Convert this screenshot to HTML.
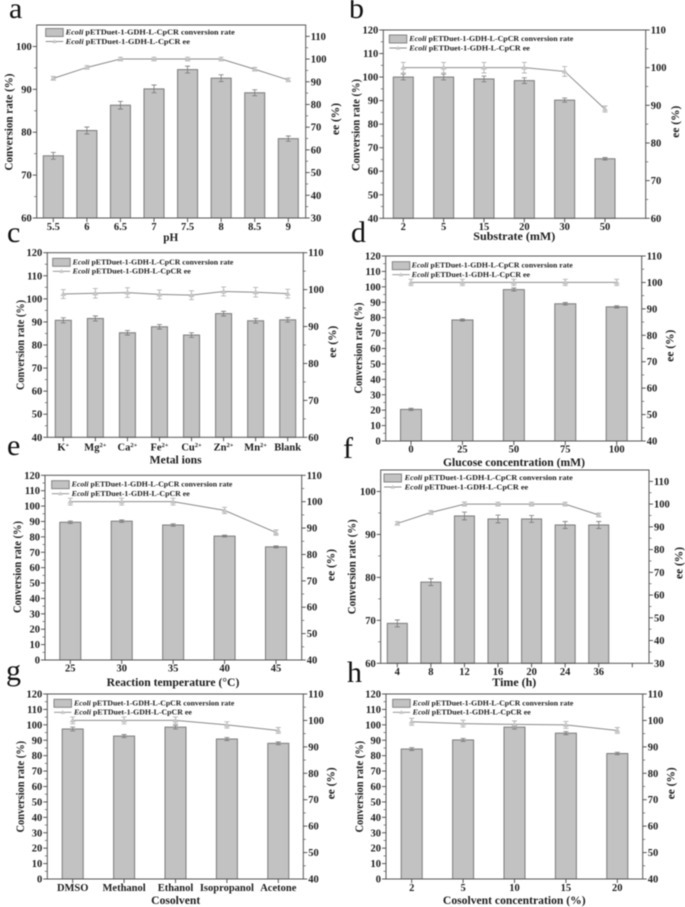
<!DOCTYPE html>
<html lang="en">
<head>
<meta charset="utf-8">
<title>Ecoli pETDuet-1-GDH-L-CpCR conversion rate and ee panels</title>
<style>
html,body{margin:0;padding:0;background:#fff;}
#figure{display:block;width:685px;height:907px;filter:blur(0.55px);font-family:"Liberation Serif",serif;}
text{font-family:"Liberation Serif",serif;fill:#1c1c1c;}
.tick{font-size:10.5px;font-weight:bold;}
.title{font-size:11.5px;font-weight:bold;}
.legend{font-size:7.5px;font-weight:bold;}
.letter{font-size:30px;fill:#111;}
</style>
</head>
<body>
<svg id="figure" xmlns="http://www.w3.org/2000/svg" width="685" height="907" viewBox="0 0 685 907"></svg>
<script>
const panelACategories = ["5.5","6","6.5","7","7.5","8","8.5","9"];
const panelAConversion = [74.5,80.4,86.3,90.1,94.6,92.6,89.2,78.5];
const panelAConversionError = [0.8,0.8,0.9,0.9,0.8,0.8,0.7,0.6];
const panelAEe = [91.5,96.3,100,100,100,100,95.5,90.8];
const panelAEeError = [0.8,0.8,0.8,0.8,0.8,0.8,0.8,0.8];
const panelALeftTicks = [60,70,80,90,100];
const panelARightTicks = [30,40,50,60,70,80,90,100,110];

const panelBCategories = ["2","5","15","20","30","50"];
const panelBConversion = [100,100,99.2,98.5,90.2,65.3];
const panelBConversionError = [1.2,1.2,1.2,1.2,0.9,0.5];
const panelBEe = [100,100,100,100,99,89];
const panelBEeError = [1.4,1.4,1.4,1.4,1.3,0.8];
const panelBLeftTicks = [40,50,60,70,80,90,100,110,120];
const panelBRightTicks = [60,70,80,90,100,110];

const panelCCategories = ["K","Mg","Ca","Fe","Cu","Zn","Mn","Blank"];
const panelCSuperscripts = ["+","2+","2+","2+","2+","2+","2+",""];
const panelCConversion = [90.7,91.5,85.3,87.9,84.3,93.6,90.5,90.9];
const panelCConversionError = [1.1,1.1,1,1,1,1,1,1];
const panelCEe = [98.8,99,99.2,98.7,98.5,99.5,99.3,98.9];
const panelCEeError = [1.2,1.3,1.3,1.2,1.2,1.2,1.3,1.2];
const panelCLeftTicks = [40,50,60,70,80,90,100,110,120];
const panelCRightTicks = [60,70,80,90,100,110];

const panelDCategories = ["0","25","50","75","100"];
const panelDConversion = [20.5,78.5,98.2,89,87];
const panelDConversionError = [0.7,0.7,1,0.8,0.7];
const panelDEe = [100,100,100,100,100];
const panelDEeError = [1.2,1.2,1.2,1.2,1.2];
const panelDLeftTicks = [0,10,20,30,40,50,60,70,80,90,100,110,120];
const panelDRightTicks = [40,50,60,70,80,90,100,110];

const panelECategories = ["25","30","35","40","45"];
const panelEConversion = [89.5,90.2,87.7,80.5,73.5];
const panelEConversionError = [0.8,0.8,0.8,0.6,0.6];
const panelEEe = [100,100,100,96.7,88.3];
const panelEEeError = [1.3,1.3,1.3,1.2,1];
const panelELeftTicks = [0,10,20,30,40,50,60,70,80,90,100,110,120];
const panelERightTicks = [40,50,60,70,80,90,100,110];

const panelFCategories = ["4","8","12","16","20","24","36",""];
const panelFConversion = [69.3,78.9,94.3,93.6,93.6,92.2,92.2];
const panelFConversionError = [0.8,0.8,0.9,0.9,0.8,0.8,0.8];
const panelFEe = [91.5,96.3,100,100,100,100,95.2];
const panelFEeError = [0.8,0.8,0.9,0.8,0.8,0.8,0.8];
const panelFLeftTicks = [60,70,80,90,100];
const panelFRightTicks = [30,40,50,60,70,80,90,100,110];

const panelGCategories = ["DMSO","Methanol","Ethanol","Isopropanol","Acetone"];
const panelGConversion = [97.3,92.7,98.5,90.8,88];
const panelGConversionError = [1.2,1,1.2,1,0.9];
const panelGEe = [100,100,100,98.3,96.2];
const panelGEeError = [1.3,1.3,1.3,1.2,1.1];
const panelGLeftTicks = [0,10,20,30,40,50,60,70,80,90,100,110,120];
const panelGRightTicks = [40,50,60,70,80,90,100,110];

const panelHCategories = ["2","5","10","15","20"];
const panelHConversion = [84.3,90.2,98.5,94.6,81.4];
const panelHConversionError = [0.9,1,1.3,1,0.8];
const panelHEe = [99.5,98.8,98.5,98.3,96.2];
const panelHEeError = [1.3,1.3,1.3,1.3,1.1];
const panelHLeftTicks = [0,10,20,30,40,50,60,70,80,90,100,110,120];
const panelHRightTicks = [40,50,60,70,80,90,100,110];

const SVG_NS = "http://www.w3.org/2000/svg";
const figure = document.getElementById("figure");

function make(tag, attrs, parent, content) {
  const el = document.createElementNS(SVG_NS, tag);
  for (const key in attrs) el.setAttribute(key, attrs[key]);
  if (content !== undefined) el.textContent = content;
  parent.appendChild(el);
  return el;
}

function drawPanel(p) {
  const group = make("g", {}, figure);
  
  

  const yLeft = v => p.bottom - (v - p.leftMin) / (p.leftMax - p.leftMin) * (p.bottom - p.top);
  const yRight = v => p.bottom - (v - p.rightMin) / (p.rightMax - p.rightMin) * (p.bottom - p.top);
  const step = (p.lastCenter - p.firstCenter) / (p.lastIndex);
  const xCat = i => p.firstCenter + i * step;

  const letter = make("text", {x: p.letterX, y: p.letterY, class: "letter"}, group, p.id);
  
  

  p.conversion.forEach((v, i) => {
    const bar = make("rect", {x: xCat(i) - p.barWidth / 2, y: yLeft(v), width: p.barWidth, height: p.bottom - yLeft(v), fill: "#c2c2c2", stroke: "#7a7a7a", "stroke-width": 1}, group);
    
    
    const hi = yLeft(v + p.conversionError[i]);
    const lo = yLeft(v - p.conversionError[i]);
    const cx = xCat(i);
    const err = make("path", {d: `M${cx} ${hi}V${lo}M${cx - 2.5} ${hi}H${cx + 2.5}M${cx - 2.5} ${lo}H${cx + 2.5}`, stroke: "#777", "stroke-width": 0.8, fill: "none"}, group);
    
    
  });

  const linePoints = p.ee.map((v, i) => xCat(i) + "," + yRight(v)).join(" ");
  const line = make("polyline", {points: linePoints, fill: "none", stroke: "#8a8a8a", "stroke-width": 1}, group);
  
  

  p.ee.forEach((v, i) => {
    const cx = xCat(i);
    const cy = yRight(v);
    const hi = yRight(v + p.eeError[i]);
    const lo = yRight(v - p.eeError[i]);
    const err = make("path", {d: `M${cx} ${hi}V${lo}M${cx - 2.5} ${hi}H${cx + 2.5}M${cx - 2.5} ${lo}H${cx + 2.5}`, stroke: "#aaa", "stroke-width": 0.8, fill: "none"}, group);
    
    
    const marker = make("path", {d: `M${cx} ${cy - 2.6}L${cx + 2.6} ${cy + 1.8}H${cx - 2.6}Z`, fill: "#c6c6c6", stroke: "#bbb", "stroke-width": 0.4}, group);
    
    
  });

  const frame = make("rect", {x: p.left, y: p.top, width: p.right - p.left, height: p.bottom - p.top, fill: "none", stroke: "#555", "stroke-width": 1}, group);
  
  

  p.leftTicks.forEach((v, i) => {
    const y = yLeft(v);
    const tick = make("line", {x1: p.left - 4, x2: p.left, y1: y, y2: y, stroke: "#444", "stroke-width": 0.9}, group);
    
    
    const label = make("text", {x: p.left - 5, y: y + 3.5, "text-anchor": "end", class: "tick"}, group, v);
    
    
    const mv = v + (p.leftTicks[1] - p.leftTicks[0]) / 2;
    if (mv < p.leftMax) {
      const minor = make("line", {x1: p.left - 2.5, x2: p.left, y1: yLeft(mv), y2: yLeft(mv), stroke: "#555", "stroke-width": 0.7}, group);
      
      
    }
  });

  p.rightTicks.forEach((v, i) => {
    const y = yRight(v);
    const tick = make("line", {x1: p.right, x2: p.right + 4, y1: y, y2: y, stroke: "#444", "stroke-width": 0.9}, group);
    
    
    const label = make("text", {x: p.right + 5, y: y + 3.5, class: "tick"}, group, v);
    
    
    const mv = v + (p.rightTicks[1] - p.rightTicks[0]) / 2;
    if (mv < p.rightMax) {
      const minor = make("line", {x1: p.right, x2: p.right + 2.5, y1: yRight(mv), y2: yRight(mv), stroke: "#555", "stroke-width": 0.7}, group);
      
      
    }
  });

  p.categories.forEach((c, i) => {
    const cx = xCat(i);
    const tick = make("line", {x1: cx, x2: cx, y1: p.bottom, y2: p.bottom + 4, stroke: "#444", "stroke-width": 0.9}, group);
    
    
    const label = make("text", {x: cx, y: p.tickBaseline, "text-anchor": "middle", class: "tick"}, group, c);
    
    
    if (p.superscripts && p.superscripts[i]) {
      make("tspan", {dy: -3.5, "font-size": "6.5px"}, label, p.superscripts[i]);
    }
  });

  const xTitle = make("text", {x: p.xTitleX, y: p.xTitleY, "text-anchor": "middle", class: "title", textLength: p.xTitleW, lengthAdjust: "spacingAndGlyphs"}, group, p.xTitle);
  
  

  const yTitle = make("text", {transform: `translate(${p.yTitleX} ${p.yTitleY}) rotate(-90)`, "text-anchor": "middle", class: "title", textLength: p.yTitleW, lengthAdjust: "spacingAndGlyphs"}, group, "Conversion rate (%)");
  
  

  const rTitle = make("text", {transform: `translate(${p.rTitleX} ${p.rTitleY}) rotate(-90)`, "text-anchor": "middle", class: "title", textLength: 32, lengthAdjust: "spacingAndGlyphs"}, group, "ee (%)");
  
  

  const swatch = make("rect", {x: p.legX, y: p.legY, width: 17.5, height: 8, fill: "#c2c2c2", stroke: "#7a7a7a", "stroke-width": 0.9}, group);
  
  
  const text1 = make("text", {x: p.legTextX, y: p.legY + 6, class: "legend", textLength: p.legW, lengthAdjust: "spacingAndGlyphs"}, group);
  
  
  make("tspan", {"font-style": "italic"}, text1, "Ecoli");
  make("tspan", {}, text1, " pETDuet-1-GDH-L-CpCR conversion rate");

  const rowY = p.legY + 13;
  const swatchLine = make("line", {x1: p.legX, x2: p.legX + 17.5, y1: rowY, y2: rowY, stroke: "#8a8a8a", "stroke-width": 0.9}, group);
  
  
  const mx = p.legX + 8.75;
  const swatchMark = make("path", {d: `M${mx} ${rowY - 2.3}L${mx + 2.3} ${rowY + 1.6}H${mx - 2.3}Z`, fill: "#c6c6c6"}, group);
  
  
  const text2 = make("text", {x: p.legTextX, y: rowY + 2.4, class: "legend", textLength: p.legW * 0.735, lengthAdjust: "spacingAndGlyphs"}, group);
  
  
  make("tspan", {"font-style": "italic"}, text2, "Ecoli");
  make("tspan", {}, text2, " pETDuet-1-GDH-L-CpCR ee");
}

drawPanel({id:"a",categories:panelACategories,conversion:panelAConversion,conversionError:panelAConversionError,ee:panelAEe,eeError:panelAEeError,leftTicks:panelALeftTicks,rightTicks:panelARightTicks,
  left:36.7,right:305.7,top:25,bottom:218,leftMin:60,leftMax:105,rightMin:30,rightMax:115,firstCenter:53.3,lastCenter:288.3,lastIndex:7,barWidth:20,tickBaseline:230,
  xTitle:"pH",xTitleX:170.7,xTitleY:241,xTitleW:15,yTitleX:12.5,yTitleY:122,yTitleW:97,rTitleX:339,rTitleY:119,letterX:9,letterY:18,legX:45.7,legY:28.5,legTextX:65.7,legW:169});
drawPanel({id:"b",categories:panelBCategories,conversion:panelBConversion,conversionError:panelBConversionError,ee:panelBEe,eeError:panelBEeError,leftTicks:panelBLeftTicks,rightTicks:panelBRightTicks,
  left:383.3,right:645.7,top:30,bottom:218.3,leftMin:40,leftMax:120,rightMin:60,rightMax:110,firstCenter:403.3,lastCenter:605,lastIndex:5,barWidth:20,tickBaseline:230,
  xTitle:"Substrate (mM)",xTitleX:514.3,xTitleY:240,xTitleW:82,yTitleX:359.5,yTitleY:125,yTitleW:92,rTitleX:679,rTitleY:121.7,letterX:349,letterY:18,legX:389.3,legY:35,legTextX:409.3,legW:164});
drawPanel({id:"c",categories:panelCCategories,superscripts:panelCSuperscripts,conversion:panelCConversion,conversionError:panelCConversionError,ee:panelCEe,eeError:panelCEeError,leftTicks:panelCLeftTicks,rightTicks:panelCRightTicks,
  left:47.3,right:303.3,top:252.7,bottom:437.3,leftMin:40,leftMax:120,rightMin:60,rightMax:110,firstCenter:63.3,lastCenter:287.7,lastIndex:7,barWidth:16,tickBaseline:450.5,
  xTitle:"Metal ions",xTitleX:175.7,xTitleY:463.5,xTitleW:52,yTitleX:24,yTitleY:345,yTitleW:90,rTitleX:336,rTitleY:341.7,letterX:7,letterY:242,legX:52.7,legY:258.3,legTextX:72.7,legW:160.7});
drawPanel({id:"d",categories:panelDCategories,conversion:panelDConversion,conversionError:panelDConversionError,ee:panelDEe,eeError:panelDEeError,leftTicks:panelDLeftTicks,rightTicks:panelDRightTicks,
  left:385.7,right:641.7,top:256,bottom:441,leftMin:0,leftMax:120,rightMin:40,rightMax:110,firstCenter:411,lastCenter:616.7,lastIndex:4,barWidth:21,tickBaseline:452.5,
  xTitle:"Glucose concentration (mM)",xTitleX:514,xTitleY:466,xTitleW:142,yTitleX:362,yTitleY:348,yTitleW:91,rTitleX:673.5,rTitleY:345.7,letterX:351,letterY:242,legX:392.3,legY:261.7,legTextX:411.7,legW:161});
drawPanel({id:"e",categories:panelECategories,conversion:panelEConversion,conversionError:panelEConversionError,ee:panelEEe,eeError:panelEEeError,leftTicks:panelELeftTicks,rightTicks:panelERightTicks,
  left:45,right:301.7,top:475.3,bottom:660,leftMin:0,leftMax:120,rightMin:40,rightMax:110,firstCenter:70.3,lastCenter:276,lastIndex:4,barWidth:21,tickBaseline:671.5,
  xTitle:"Reaction temperature (\u00B0C)",xTitleX:173,xTitleY:686,xTitleW:132.7,yTitleX:21,yTitleY:567,yTitleW:92,rTitleX:334.5,rTitleY:565,letterX:7,letterY:455,legX:51.7,legY:480.7,legTextX:71.7,legW:160.7});
drawPanel({id:"f",categories:panelFCategories,conversion:panelFConversion,conversionError:panelFConversionError,ee:panelFEe,eeError:panelFEeError,leftTicks:panelFLeftTicks,rightTicks:panelFRightTicks,
  left:380.7,right:649,top:470,bottom:663.3,leftMin:60,leftMax:105,rightMin:30,rightMax:115,firstCenter:397.3,lastCenter:632.3,lastIndex:7,barWidth:20,tickBaseline:675,
  xTitle:"Time (h)",xTitleX:514.3,xTitleY:686,xTitleW:44,yTitleX:355.5,yTitleY:566.7,yTitleW:95,rTitleX:682.5,rTitleY:563,letterX:343,letterY:458,legX:384,legY:474,legTextX:404.7,legW:168});
drawPanel({id:"g",categories:panelGCategories,conversion:panelGConversion,conversionError:panelGConversionError,ee:panelGEe,eeError:panelGEeError,leftTicks:panelGLeftTicks,rightTicks:panelGRightTicks,
  left:47.3,right:303.3,top:694,bottom:879,leftMin:0,leftMax:120,rightMin:40,rightMax:110,firstCenter:72.7,lastCenter:278.3,lastIndex:4,barWidth:21,tickBaseline:891,
  xTitle:"Cosolvent",xTitleX:175.7,xTitleY:904,xTitleW:49,yTitleX:24,yTitleY:786.7,yTitleW:91.7,rTitleX:334.5,rTitleY:783.3,letterX:6,letterY:680,legX:54,legY:699.3,legTextX:74,legW:160.3});
drawPanel({id:"h",categories:panelHCategories,conversion:panelHConversion,conversionError:panelHConversionError,ee:panelHEe,eeError:panelHEeError,leftTicks:panelHLeftTicks,rightTicks:panelHRightTicks,
  left:386,right:642.7,top:694,bottom:879,leftMin:0,leftMax:120,rightMin:40,rightMax:110,firstCenter:411.7,lastCenter:617.3,lastIndex:4,barWidth:21,tickBaseline:891,
  xTitle:"Cosolvent concentration (%)",xTitleX:514.3,xTitleY:904,xTitleW:142.7,yTitleX:363,yTitleY:786.7,yTitleW:91.7,rTitleX:674.5,rTitleY:783.3,letterX:347,letterY:682,legX:392.7,legY:699.3,legTextX:412.7,legW:160.7});
</script>
</body>
</html>
